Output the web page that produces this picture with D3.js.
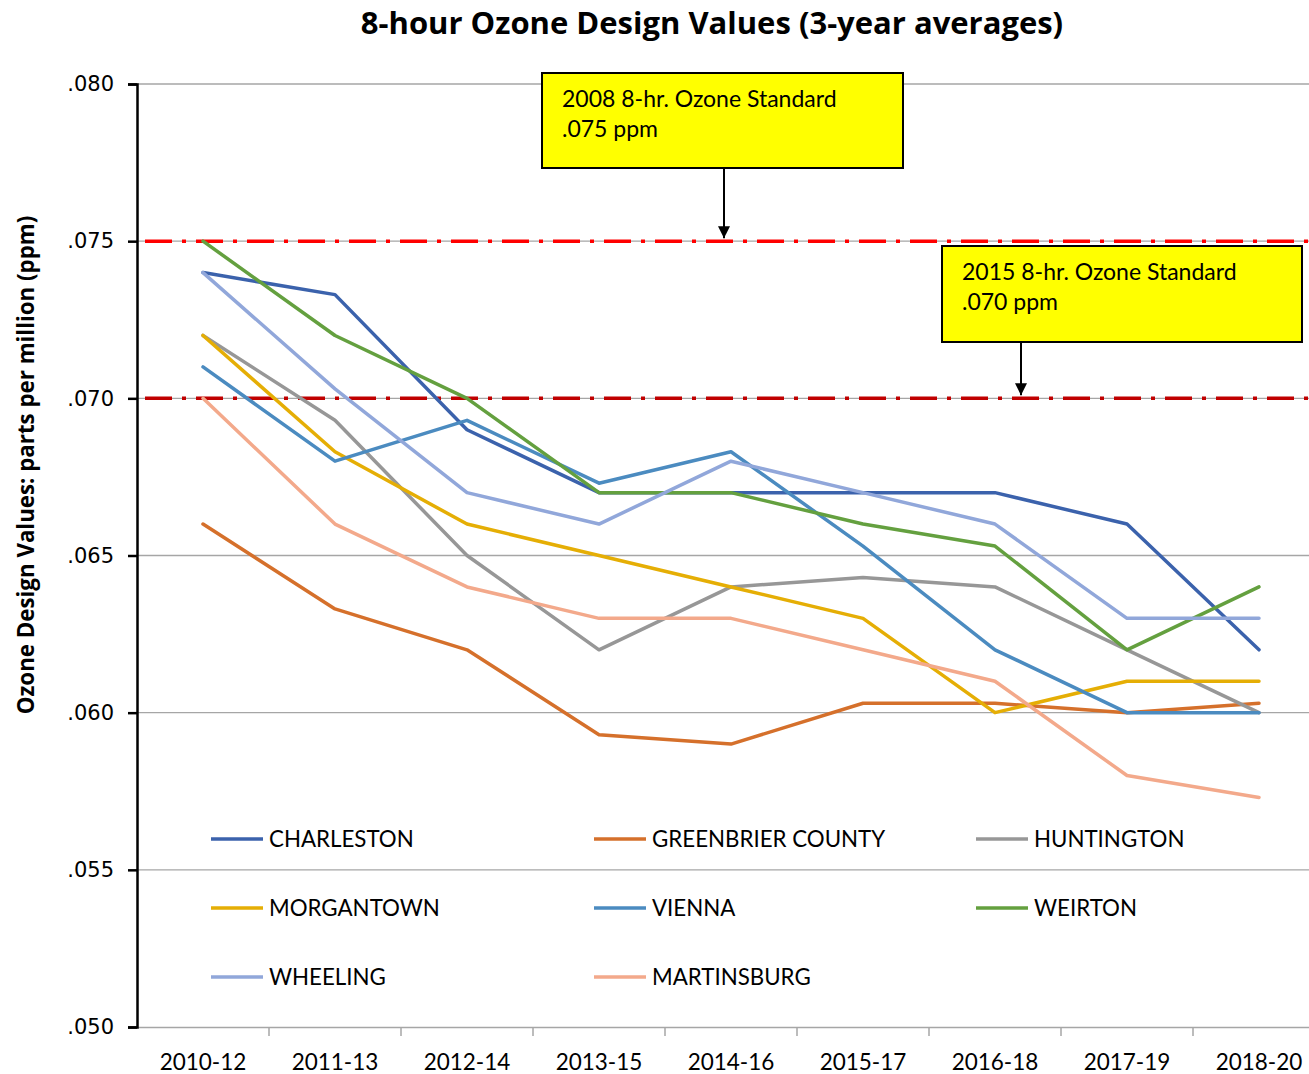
<!DOCTYPE html>
<html>
<head>
<meta charset="utf-8">
<script src="https://cdn.jsdelivr.net/npm/d3@7"></script>
<style>
html,body{margin:0;padding:0;background:#fff;overflow:hidden;}
svg{display:block;}
</style>
</head>
<body>
<svg id="chart" width="1309" height="1074"></svg>
<script>
const periods = ["2010-12","2011-13","2012-14","2013-15","2014-16","2015-17","2016-18","2017-19","2018-20"];
const yTicks = [0.050,0.055,0.060,0.065,0.070,0.075,0.080];
const charleston = [0.074,0.0733,0.069,0.067,0.067,0.067,0.067,0.066,0.062];
const greenbrier = [0.066,0.0633,0.062,0.0593,0.059,0.0603,0.0603,0.060,0.0603];
const huntington = [0.072,0.0693,0.065,0.062,0.064,0.0643,0.064,0.062,0.060];
const morgantown = [0.072,0.0683,0.066,0.065,0.064,0.063,0.060,0.061,0.061];
const vienna     = [0.071,0.068,0.0693,0.0673,0.0683,0.0653,0.062,0.060,0.060];
const weirton    = [0.075,0.072,0.070,0.067,0.067,0.066,0.0653,0.062,0.064];
const wheeling   = [0.074,0.0703,0.067,0.066,0.068,0.067,0.066,0.063,0.063];
const martinsburg= [0.070,0.066,0.064,0.063,0.063,0.062,0.061,0.058,0.0573];
const seriesNames = ["CHARLESTON","GREENBRIER COUNTY","HUNTINGTON","MORGANTOWN","VIENNA","WEIRTON","WHEELING","MARTINSBURG"];
const seriesValues = [charleston,greenbrier,huntington,morgantown,vienna,weirton,wheeling,martinsburg];
const seriesColors = ["#3B62AC","#D5702B","#979797","#E5AE05","#4B8BC0","#64A03F","#91A7DA","#F3A98B"];
const standards = [
  {value:0.075, color:"#FF0000", lines:["2008 8-hr. Ozone Standard",".075 ppm"]},
  {value:0.070, color:"#C00000", lines:["2015 8-hr. Ozone Standard",".070 ppm"]}
];

const svg = d3.select("#chart");
const pLeft = 137, pRight = 1325, pTop = 84, pBottom = 1027;
const x = d3.scaleBand().domain(periods).range([pLeft,pRight]);
const y = d3.scaleLinear().domain([0.050,0.080]).range([pBottom,pTop]);
const font = "Lato, 'Open Sans', sans-serif";

// gridlines
svg.append("g").selectAll("line").data(yTicks.filter(d=>d>0.050)).join("line")
  .attr("x1",pLeft).attr("x2",pRight)
  .attr("y1",d=>y(d)).attr("y2",d=>y(d))
  .attr("stroke","#A6A6A6").attr("stroke-width",1.3);

// x axis
const xAxis = svg.append("g").attr("transform",`translate(0,${pBottom})`)
  .call(d3.axisBottom(x).tickSize(0).tickPadding(27));
xAxis.select(".domain").attr("stroke","#A6A6A6").attr("stroke-width",1.5);
xAxis.selectAll("text").attr("font-family",font).attr("font-size",22.5).attr("fill","#000");
xAxis.selectAll(".edge").data(periods.slice(1)).join("line")
  .attr("x1",d=>x(d)).attr("x2",d=>x(d)).attr("y1",0).attr("y2",9)
  .attr("stroke","#A6A6A6").attr("stroke-width",1.5);

// y axis
const yAxis = svg.append("g").attr("transform",`translate(${pLeft},0)`)
  .call(d3.axisLeft(y).tickValues(yTicks).tickSize(9).tickPadding(14)
    .tickFormat(d=>d3.format(".3f")(d).replace(/^0/,"")));
yAxis.select(".domain").attr("stroke","#000").attr("stroke-width",2.5);
yAxis.selectAll(".tick line").attr("stroke","#000").attr("stroke-width",2.5);
yAxis.selectAll("text").attr("font-family","'DejaVu Sans', Verdana, sans-serif").attr("font-size",21).attr("fill","#000");

// standard lines
svg.append("g").selectAll("line").data(standards).join("line")
  .attr("x1",pLeft+8).attr("x2",pRight)
  .attr("y1",d=>y(d.value)).attr("y2",d=>y(d.value))
  .attr("stroke",d=>d.color).attr("stroke-width",3.5)
  .attr("stroke-dasharray","27,10,4,10");

// series
const line = d3.line().x((d,i)=>x(periods[i])+x.bandwidth()/2).y(d=>y(d));
svg.append("g").selectAll("path").data(seriesValues).join("path")
  .attr("d",d=>line(d)).attr("fill","none")
  .attr("stroke",(d,i)=>seriesColors[i]).attr("stroke-width",3.5)
  .attr("stroke-linejoin","round").attr("stroke-linecap","round");

// legend
const legCols = [211,594,976], legRows = [839,908,977];
const leg = svg.append("g").selectAll("g").data(seriesNames).join("g")
  .attr("transform",(d,i)=>`translate(${legCols[i%3]},${legRows[Math.floor(i/3)]})`);
leg.append("line").attr("x1",0).attr("x2",52).attr("y1",0).attr("y2",0)
  .attr("stroke",(d,i)=>seriesColors[i]).attr("stroke-width",3.5);
leg.append("text").attr("x",58).attr("y",0).attr("dy","0.36em")
  .attr("font-family",font).attr("font-size",22.3).attr("fill","#000").text(d=>d);

// annotations
const boxes = [
  {x:542, y:73, w:361, h:95, ax:724},
  {x:942, y:246, w:360, h:96, ax:1021}
];
svg.append("defs").append("marker").attr("id","arr").attr("viewBox","0 0 10 10")
  .attr("refX",10).attr("refY",5).attr("markerWidth",6).attr("markerHeight",6)
  .attr("markerUnits","strokeWidth").attr("orient","auto")
  .append("path").attr("d","M0,0L10,5L0,10z").attr("fill","#000");
standards.forEach((s,i)=>{
  const b = boxes[i];
  const g = svg.append("g");
  g.append("line").attr("x1",b.ax).attr("x2",b.ax).attr("y1",b.y+b.h).attr("y2",y(s.value)-3)
    .attr("stroke","#000").attr("stroke-width",2).attr("marker-end","url(#arr)");
  g.append("rect").attr("x",b.x).attr("y",b.y).attr("width",b.w).attr("height",b.h)
    .attr("fill","#FFFF00").attr("stroke","#000").attr("stroke-width",2);
  s.lines.forEach((t,j)=>{
    g.append("text").attr("x",b.x+20).attr("y",b.y+34+j*30)
      .attr("font-family",font).attr("font-size",23).attr("fill","#000").text(t);
  });
});

// title
svg.append("text").attr("x",712).attr("y",34).attr("text-anchor","middle")
  .attr("font-family","'Open Sans', Lato, sans-serif").attr("font-weight","bold").attr("font-size",31).attr("fill","#000")
  .text("8-hour Ozone Design Values (3-year averages)");

// y label
svg.append("text").attr("transform",`translate(34,465) rotate(-90)`)
  .attr("text-anchor","middle").attr("font-family","'Open Sans', Lato, sans-serif").attr("font-weight","bold")
  .attr("font-size",22.3).attr("fill","#000")
  .text("Ozone Design Values: parts per million (ppm)");
</script>
</body>
</html>
